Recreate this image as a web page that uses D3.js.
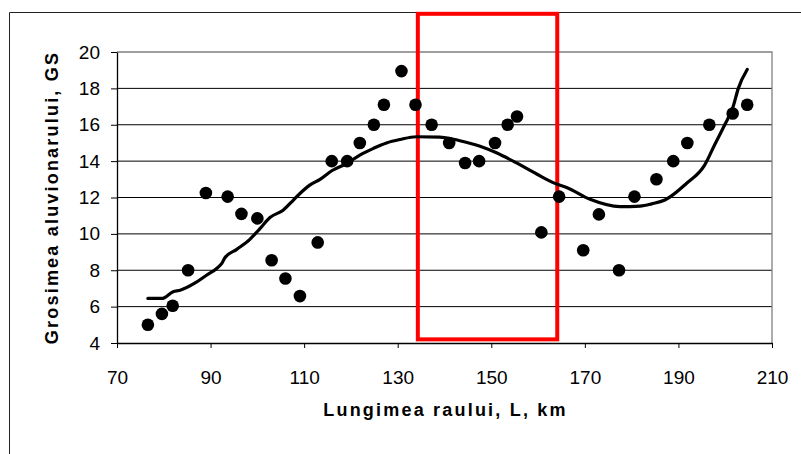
<!DOCTYPE html>
<html><head><meta charset="utf-8">
<script src="https://cdn.jsdelivr.net/npm/d3@7"></script>
<style>body{margin:0;background:#fff} svg{display:block}</style>
</head><body>
<svg id="chart" width="801" height="454"></svg>
<script>
// Observed points
const obsL  = [76.6, 79.6, 81.9, 85.2, 89.0, 93.65, 96.6, 100.0, 103.05, 106.0, 109.1, 112.9,
               115.9, 119.2, 121.9, 124.9, 127.05, 130.8, 133.8, 137.25, 141.0, 144.4, 147.4,
               150.8, 153.5, 155.5, 160.7, 164.5, 169.65, 173.0, 177.3, 180.6, 185.3, 188.9,
               191.9, 196.6, 201.6, 204.7];
const obsGS = [5.0, 5.6, 6.05, 8.0, 12.25, 12.05, 11.1, 10.85, 8.55, 7.55, 6.58, 9.53,
               14.0, 14.0, 15.0, 16.0, 17.1, 18.95, 17.1, 16.0, 15.0, 13.9, 14.0,
               15.0, 16.0, 16.45, 10.08, 12.05, 9.1, 11.07, 8.0, 12.05, 13.0, 14.0,
               15.0, 16.0, 16.62, 17.1];
// Trend line
const trendL  = [76.6, 79.6, 82.0, 83.5, 86.7, 89.2, 91.3, 92.4, 93.1, 95.6, 98.4, 100.6, 102.7,
                 105.5, 107.7, 109.1, 111.2, 113.4, 115.9, 119.1, 121.9, 124.8, 127.6, 130.5,
                 134.0, 139.0, 141.9, 143.3, 147.6, 151.1, 155.4, 159.7, 163.95, 166.1, 171.1,
                 177.5, 181.8, 184.3, 187.1, 191.7, 195.6, 197.8, 199.9, 201.7, 202.8, 204.7];
const trendGS = [6.45, 6.45, 6.82, 6.9, 7.3, 7.74, 8.1, 8.38, 8.7, 9.15, 9.7, 10.3, 10.9,
                 11.3, 11.86, 12.22, 12.68, 13.0, 13.47, 13.87, 14.33, 14.7, 15.0, 15.19,
                 15.34, 15.32, 15.2, 15.12, 14.82, 14.46, 13.9, 13.29, 12.74, 12.55, 11.9,
                 11.5, 11.53, 11.65, 11.86, 12.77, 13.78, 14.93, 16.0, 17.0, 18.0, 19.04];
const xTicks = [70, 90, 110, 130, 150, 170, 190, 210];
const yTicks = [4, 6, 8, 10, 12, 14, 16, 18, 20];
const highlightL  = [134.3, 164.1];
const highlightGS = [4.2, 22.1];
const xTitle = "Lungimea raului, L, km";
const yTitle = "Grosimea aluvionarului, GS";

const FONT = "'Liberation Sans', Arial, sans-serif";
const svg = d3.select("#chart");
const pLeft = 117, pRight = 772, pTop = 52, pBottom = 343;

const x = d3.scaleLinear().domain([70, 210]).range([pLeft, pRight]);
const y = d3.scaleLinear().domain([4, 20]).range([pBottom, pTop]);

// outer chart frame
svg.append("path")
  .attr("d", "M9.5,460 V12.5 H810")
  .attr("fill", "none").attr("stroke", "#222").attr("stroke-width", 1);

// gridlines
svg.append("g").selectAll("line").data(yTicks.filter(d => d > 4 && d < 20)).join("line")
  .attr("x1", pLeft).attr("x2", pRight)
  .attr("y1", d => y(d)).attr("y2", d => y(d))
  .attr("stroke", "#000").attr("stroke-width", 1);

// plot area border (top/right)
svg.append("path")
  .attr("d", `M${pLeft},${y(20)} H${pRight} V${pBottom}`)
  .attr("fill", "none").attr("stroke", "#808080").attr("stroke-width", 1.3);

// axes
const gx = svg.append("g").attr("transform", `translate(0,${pBottom})`)
  .call(d3.axisBottom(x).tickValues(xTicks).tickSize(5).tickSizeOuter(0).tickPadding(23).tickFormat(d3.format("d")));
const gy = svg.append("g").attr("transform", `translate(${pLeft},0)`)
  .call(d3.axisLeft(y).tickValues(yTicks).tickSize(6).tickSizeOuter(0).tickPadding(11).tickFormat(d3.format("d")));
[gx, gy].forEach(g => {
  g.selectAll("path.domain").attr("stroke", "#000").attr("stroke-width", 1.3);
  g.selectAll(".tick line").attr("stroke", "#000");
  g.selectAll("text").attr("font-family", FONT).attr("font-size", 19).attr("fill", "#000");
});

// highlight rectangle
svg.append("rect")
  .attr("x", x(highlightL[0])).attr("y", y(highlightGS[1]))
  .attr("width", x(highlightL[1]) - x(highlightL[0]))
  .attr("height", y(highlightGS[0]) - y(highlightGS[1]))
  .attr("fill", "none").attr("stroke", "#ff0000").attr("stroke-width", 4);

// trend line
const trend = trendL.map((d, i) => [d, trendGS[i]]);
svg.append("path").datum(trend)
  .attr("d", d3.line().x(d => x(d[0])).y(d => y(d[1])).curve(d3.curveMonotoneX))
  .attr("fill", "none").attr("stroke", "#000").attr("stroke-width", 3.2)
  .attr("stroke-linejoin", "round").attr("stroke-linecap", "round");

// points
svg.append("g").selectAll("circle").data(obsL.map((d, i) => [d, obsGS[i]])).join("circle")
  .attr("cx", d => x(d[0])).attr("cy", d => y(d[1])).attr("r", 6.3).attr("fill", "#000");

// titles
svg.append("text").text(xTitle)
  .attr("x", (pLeft + pRight) / 2 + 1).attr("y", 416)
  .attr("text-anchor", "middle").attr("font-family", FONT).attr("font-weight", "bold")
  .attr("font-size", 18).attr("letter-spacing", "2.2px").attr("fill", "#000");
svg.append("text").text(yTitle)
  .attr("transform", `translate(58,${(pTop + pBottom) / 2}) rotate(-90)`)
  .attr("text-anchor", "middle").attr("font-family", FONT).attr("font-weight", "bold")
  .attr("font-size", 18).attr("letter-spacing", "2.2px").attr("fill", "#000");
</script>
</body></html>
